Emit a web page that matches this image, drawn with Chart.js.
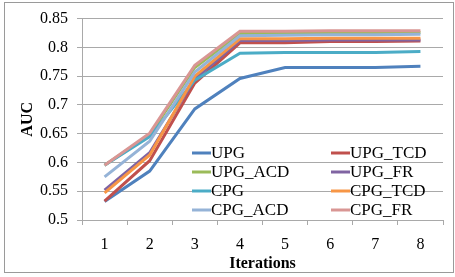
<!DOCTYPE html>
<html>
<head>
<meta charset="utf-8">
<script src="https://cdn.jsdelivr.net/npm/chart.js@4"></script>
<style>
  body { margin: 0; background: #fff; }
  #wrap { position: relative; width: 455px; height: 277px; }
</style>
</head>
<body>
<div id="wrap"><canvas id="myChart" width="455" height="277"></canvas></div>
<script>
var iterations = ['1', '2', '3', '4', '5', '6', '7', '8'];
var seriesNames = ['UPG', 'UPG_TCD', 'UPG_ACD', 'UPG_FR', 'CPG', 'CPG_TCD', 'CPG_ACD', 'CPG_FR'];
var seriesColors = ['#4F81BD', '#C0504D', '#9BBB59', '#8064A2', '#4BACC6', '#F79646', '#95B3D7', '#D99694'];

var upg    = [0.532, 0.585, 0.693, 0.746, 0.765, 0.765, 0.765, 0.767];
var upgTcd = [0.533, 0.603, 0.738, 0.808, 0.808, 0.810, 0.810, 0.811];
var upgAcd = [0.595, 0.648, 0.765, 0.824, 0.825, 0.826, 0.826, 0.826];
var upgFr  = [0.552, 0.617, 0.745, 0.812, 0.812, 0.813, 0.813, 0.813];
var cpg    = [0.595, 0.645, 0.743, 0.790, 0.791, 0.791, 0.791, 0.793];
var cpgTcd = [0.547, 0.613, 0.750, 0.815, 0.815, 0.816, 0.816, 0.816];
var cpgAcd = [0.575, 0.637, 0.757, 0.820, 0.821, 0.822, 0.822, 0.823];
var cpgFr  = [0.595, 0.651, 0.769, 0.828, 0.828, 0.829, 0.829, 0.829];

var yTicks = [0.5, 0.55, 0.6, 0.65, 0.7, 0.75, 0.8, 0.85];

var allSeries = [upg, upgTcd, upgAcd, upgFr, cpg, cpgTcd, cpgAcd, cpgFr];
var FONT = "'Liberation Serif', 'Times New Roman', serif";
var GRID = '#a9a9a9';

var datasets = allSeries.map(function(values, i) {
  return {
    label: seriesNames[i],
    data: values,
    borderColor: seriesColors[i],
    backgroundColor: seriesColors[i],
    borderWidth: 3,
    pointRadius: 0,
    tension: 0,
    order: allSeries.length - i // later series end up on top, like Excel
  };
});

// legend drawn inside the plot, two columns, no box
var insideLegend = {
  id: 'insideLegend',
  afterDraw: function(chart) {
    var c = chart.ctx;
    var colX = [192, 331];
    var rowY = 153, rowH = 19;
    c.save();
    c.font = '17px ' + FONT;
    c.textBaseline = 'middle';
    c.fillStyle = '#000';
    chart.data.datasets.forEach(function(ds, i) {
      var x = colX[i % 2];
      var y = rowY + Math.floor(i / 2) * rowH;
      c.strokeStyle = ds.borderColor;
      c.lineWidth = 3;
      c.beginPath();
      c.moveTo(x, y);
      c.lineTo(x + 19, y);
      c.stroke();
      c.fillText(ds.label, x + 19, y + 1);
    });
    c.restore();
  }
};

var frame = {
  id: 'frame',
  afterDraw: function(chart) {
    var c = chart.ctx;
    c.save();
    c.strokeStyle = '#9a9a9a';
    c.lineWidth = 1;
    c.strokeRect(4.5, 2.5, 449, 270);
    c.restore();
  }
};

var ctx = document.getElementById('myChart').getContext('2d');
var myChart = new Chart(ctx, {
  type: 'line',
  data: {
    labels: iterations,
    datasets: datasets
  },
  options: {
    responsive: false,
    animation: false,
    layout: {
      padding: { top: 17, right: 12, bottom: 0, left: 0 }
    },
    plugins: {
      legend: { display: false },
      tooltip: { enabled: false }
    },
    scales: {
      x: {
        offset: true,
        grid: {
          offset: true,
          drawOnChartArea: false,
          color: GRID,
          tickLength: 5
        },
        border: { color: GRID },
        ticks: {
          color: '#000',
          padding: 10,
          font: { size: 16, family: FONT }
        },
        title: {
          display: true,
          text: 'Iterations',
          color: '#000',
          padding: { top: 2, bottom: 4 },
          font: { size: 16, weight: 'bold', family: FONT }
        },
        afterFit: function(scale) { scale.height = 57; }
      },
      y: {
        min: 0.5,
        max: 0.85,
        afterBuildTicks: function(scale) {
          scale.ticks = yTicks.map(function(v) { return { value: v }; });
        },
        grid: {
          color: GRID,
          tickLength: 5
        },
        border: { color: GRID },
        ticks: {
          color: '#000',
          padding: 9,
          font: { size: 16, family: FONT },
          callback: function(v) { return String(Number(v.toFixed(2))); }
        },
        title: {
          display: true,
          text: 'AUC',
          color: '#000',
          padding: { top: 18, bottom: 0 },
          font: { size: 16, weight: 'bold', family: FONT }
        },
        afterFit: function(scale) { scale.width = 82; }
      }
    }
  },
  plugins: [insideLegend, frame]
});
</script>
</body>
</html>
